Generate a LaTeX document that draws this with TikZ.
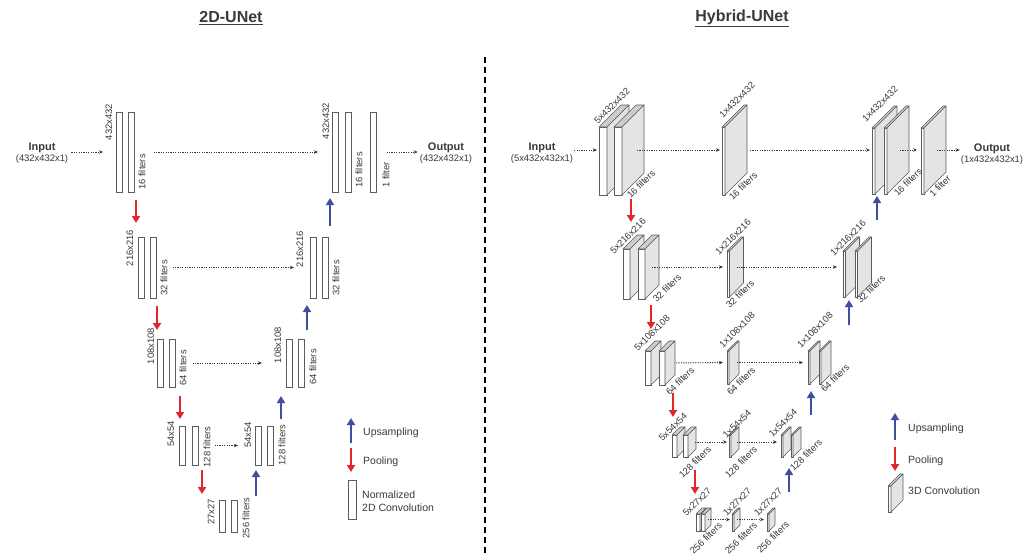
\documentclass[tikz,border=0pt]{standalone}
\usepackage{fontspec}
\setmainfont{Liberation Sans}
\usetikzlibrary{arrows.meta}

\definecolor{txt}{HTML}{3A3A3A}
\definecolor{edge}{HTML}{5C5C5C}
\definecolor{sidegray}{HTML}{E4E4E4}
\definecolor{topgray}{HTML}{CDCDCD}
\definecolor{poolred}{HTML}{E3262C}
\definecolor{upblue}{HTML}{3F4FA0}

\tikzset{
  conv/.style={draw=edge, line width=0.7pt, fill=white, inner sep=0pt, outer sep=0pt,
               minimum width=6.5pt, anchor=north west},
  lbl/.style={font=\fontsize{9.4}{10}\selectfont, text=txt, inner sep=0pt},
  vlbl/.style={lbl, rotate=90},
  dlbl/.style={lbl, rotate=45},
  leg/.style={font=\fontsize{10.5}{13}\selectfont, text=txt, inner sep=0pt, anchor=west, align=left},
  io/.style={text=txt, inner sep=0pt, align=center},
  ttl/.style={font=\fontsize{16}{18}\selectfont\bfseries, text=txt, inner sep=0pt},
  flow/.style={draw=txt, line width=0.9pt, dash pattern=on 1.2pt off 1.2pt,
               -{Stealth[length=4pt,width=3.5pt]}},
  pool/.style={draw=poolred, line width=2.3pt, -{Triangle[length=7pt,width=8pt]}},
  upar/.style={draw=upblue, line width=2.3pt, -{Triangle[length=7pt,width=8pt]}},
  slabline/.style={draw=edge, line width=0.6pt, line join=round},
}

% 3D convolution slab: name, x, bottom y, thickness, height, depth
\newcommand\slab[6]{%
  \filldraw[slabline, fill=white] (#2,#3) rectangle ({#2+#4},{#3-#5});
  \filldraw[slabline, fill=topgray] (#2,{#3-#5}) -- ({#2+#4},{#3-#5})
      -- ({#2+#4+#6},{#3-#5-#6}) -- ({#2+#6},{#3-#5-#6}) -- cycle;
  \filldraw[slabline, fill=sidegray] ({#2+#4},#3) -- ({#2+#4+#6},{#3-#6})
      -- ({#2+#4+#6},{#3-#5-#6}) -- ({#2+#4},{#3-#5}) -- cycle;
  \coordinate (#1) at ({#2+#4+#6/2},{#3-#5/2-#6/2});
  \coordinate (#1-in) at (#2,{#3-#5/2-#6/2});
}

\newcommand\iotext[2]{{\fontsize{11}{13}\selectfont\bfseries #1}\\[-1pt]{\fontsize{9.4}{11}\selectfont #2}}

\begin{document}
\begin{tikzpicture}[x=1pt, y=-1pt]
\useasboundingbox[fill=white] (0,0) rectangle (1026,557);

% ---------------- titles and separator ----------------
\node[ttl] (t2d) at (231,18) {\underline{2D-UNet}};
\node[ttl] (thy) at (742,18) {\underline{Hybrid-UNet}};
\coordinate (sepTop) at (485,57);
\coordinate (sepBot) at (485,557);
\draw[line width=2pt, dash pattern=on 6pt off 4pt] (sepTop) -- (sepBot);

% ================= 2D-UNet =================
\node[io] (inL) at (42,153) {\iotext{Input}{(432x432x1)}};
\node[io] (outL) at (446,153) {\iotext{Output}{(432x432x1)}};

% level 1
\node[conv, minimum height=80pt] (e1a) at (116,112) {};
\node[conv, minimum height=80pt] (e1b) at (128,112) {};
\node[vlbl] (e1s) at (109,122) {432x432};
\node[vlbl] (e1f) at (142,172) {16 filters};
\node[conv, minimum height=80pt] (d1a) at (332,112) {};
\node[conv, minimum height=80pt] (d1b) at (345,112) {};
\node[conv, minimum height=80pt] (d1c) at (370,112) {};
\node[vlbl] (d1s) at (326,121) {432x432};
\node[vlbl] (d1f) at (359,170) {16 filters};
\node[vlbl] (d1o) at (386,175) {1 filter};

% level 2
\node[conv, minimum height=61pt] (e2a) at (138,237) {};
\node[conv, minimum height=61pt] (e2b) at (150,237) {};
\node[vlbl] (e2s) at (130,248) {216x216};
\node[vlbl] (e2f) at (164,278) {32 filters};
\node[conv, minimum height=61pt] (d2a) at (310,237) {};
\node[conv, minimum height=61pt] (d2b) at (322,237) {};
\node[vlbl] (d2s) at (300,249) {216x216};
\node[vlbl] (d2f) at (336,278) {32 filters};

% level 3
\node[conv, minimum height=48pt] (e3a) at (157,339) {};
\node[conv, minimum height=48pt] (e3b) at (169,339) {};
\node[vlbl] (e3s) at (151,346) {108x108};
\node[vlbl] (e3f) at (183,368) {64 filters};
\node[conv, minimum height=48pt] (d3a) at (286,339) {};
\node[conv, minimum height=48pt] (d3b) at (298,339) {};
\node[vlbl] (d3s) at (278,345) {108x108};
\node[vlbl] (d3f) at (313,367) {64 filters};

% level 4
\node[conv, minimum height=39pt] (e4a) at (179,426) {};
\node[conv, minimum height=39pt] (e4b) at (192,426) {};
\node[vlbl] (e4s) at (171,434) {54x54};
\node[vlbl] (e4f) at (207,447) {128 filters};
\node[conv, minimum height=39pt] (d4a) at (255,426) {};
\node[conv, minimum height=39pt] (d4b) at (267,426) {};
\node[vlbl] (d4s) at (248,435) {54x54};
\node[vlbl] (d4f) at (282,445) {128 filters};

% level 5
\node[conv, minimum height=32pt] (e5a) at (219,500) {};
\node[conv, minimum height=32pt] (e5b) at (231,500) {};
\node[vlbl] (e5s) at (211,512) {27x27};
\node[vlbl] (e5f) at (246,518) {256 filters};

% skip connections and in/out
\draw[flow, shorten <=3pt, shorten >=13pt] (inL.east |- e1a.west) -- (e1a.west);
\draw[flow, shorten <=19pt, shorten >=14pt] (e1b.east) -- (d1a.west);
\draw[flow, shorten <=10pt, shorten >=2pt] (d1c.east) -- (d1c.east -| outL.west);
\draw[flow, shorten <=16pt, shorten >=16pt] (e2b.east) -- (d2a.west);
\draw[flow, shorten <=17pt, shorten >=24pt] (e3b.east) -- (d3a.west);
\draw[flow, shorten <=16pt, shorten >=17pt] (e4b.east) -- (d4a.west);

% pooling / upsampling
\draw[pool] (136,200) -- (136,223);
\draw[pool] (157,306) -- (157,330);
\draw[pool] (180,396) -- (180,419);
\draw[pool] (202,470) -- (202,494);
\draw[upar] (330,226) -- (330,198);
\draw[upar] (307,330) -- (307,305);
\draw[upar] (281,419) -- (281,396);
\draw[upar] (256,496) -- (256,470);

% legend
\draw[upar] (351,443) -- (351,418);
\node[leg] (lgUpL) at (363,433) {Upsampling};
\draw[pool] (351,448) -- (351,472);
\node[leg] (lgPoolL) at (363,462) {Pooling};
\node[conv, minimum width=8pt, minimum height=39pt] (lgConvL) at (348,480) {};
\node[leg] (lgConvTxtL) at (362,501) {Normalized\\2D Convolution};

% ================= Hybrid-UNet =================
\node[io] (inR) at (542,153) {\iotext{Input}{(5x432x432x1)}};
\node[io] (outR) at (992,154) {\iotext{Output}{(1x432x432x1)}};

% level 1
\slab{r1a}{599}{195}{8}{68}{22}
\slab{r1b}{614}{195}{8}{68}{22}
\slab{r1m}{722}{195}{3}{68}{22}
\slab{r1da}{872}{194}{3}{66}{22}
\slab{r1db}{884}{194}{3}{66}{22}
\slab{r1o}{921}{194}{3}{66}{22}
\node[dlbl] (r1as) at (612,106) {5x432x432};
\node[dlbl] (r1af) at (641,184) {16 filters};
\node[dlbl] (r1ms) at (737,100) {1x432x432};
\node[dlbl] (r1mf) at (743,186) {16 filters};
\node[dlbl] (r1ds) at (880,104) {1x432x432};
\node[dlbl] (r1df) at (908,182) {16 filters};
\node[dlbl] (r1of) at (940,186) {1 filter};

% level 2
\slab{r2a}{623}{299}{7}{50}{14}
\slab{r2b}{638}{299}{7}{50}{14}
\slab{r2m}{727}{297}{2.5}{46}{14}
\slab{r2da}{843}{297}{2.5}{46}{14}
\slab{r2db}{855}{297}{2.5}{46}{14}
\node[dlbl] (r2as) at (628,236) {5x216x216};
\node[dlbl] (r2af) at (667,288) {32 filters};
\node[dlbl] (r2ms) at (733,237) {1x216x216};
\node[dlbl] (r2mf) at (740,294) {32 filters};
\node[dlbl] (r2ds) at (848,238) {1x216x216};
\node[dlbl] (r2df) at (871,289) {32 filters};

% level 3
\slab{r3a}{645}{385}{6}{34}{10}
\slab{r3b}{659}{385}{6}{34}{10}
\slab{r3m}{727}{384}{2}{33}{10}
\slab{r3da}{808}{384}{2}{33}{10}
\slab{r3db}{819}{384}{2}{33}{10}
\node[dlbl] (r3as) at (652,333) {5x108x108};
\node[dlbl] (r3af) at (680,381) {64 filters};
\node[dlbl] (r3ms) at (737,330) {1x108x108};
\node[dlbl] (r3mf) at (741,381) {64 filters};
\node[dlbl] (r3ds) at (815,330) {1x108x108};
\node[dlbl] (r3df) at (835,378) {64 filters};

% level 4
\slab{r4a}{672}{457}{5}{22}{8}
\slab{r4b}{683}{457}{5}{22}{8}
\slab{r4m}{729}{457}{2}{22}{8}
\slab{r4da}{781}{457}{2}{22}{8}
\slab{r4db}{791}{457}{2}{22}{8}
\node[dlbl] (r4as) at (673,427) {5x54x54};
\node[dlbl] (r4af) at (695,462) {128 filters};
\node[dlbl] (r4ms) at (737,424) {1x54x54};
\node[dlbl] (r4mf) at (741,462) {128 filters};
\node[dlbl] (r4ds) at (783,423) {1x54x54};
\node[dlbl] (r4df) at (806,455) {128 filters};

% level 5
\slab{r5a}{696}{531}{4}{17}{6}
\slab{r5b}{701}{531}{4}{17}{6}
\slab{r5m}{732}{531}{2}{17}{6}
\slab{r5d}{767}{531}{2}{17}{6}
\node[dlbl] (r5as) at (697,502) {5x27x27};
\node[dlbl] (r5af) at (706,538) {256 filters};
\node[dlbl] (r5ms) at (737,502) {1x27x27};
\node[dlbl] (r5mf) at (741,538) {256 filters};
\node[dlbl] (r5ds) at (768,502) {1x27x27};
\node[dlbl] (r5df) at (773,537) {256 filters};

% connections
\draw[flow, shorten <=1pt, shorten >=2pt] (inR.east |- r1a-in) -- (r1a-in);
\draw[flow, shorten <=4pt, shorten >=2pt] (r1b) -- (r1m-in);
\draw[flow, shorten <=14pt, shorten >=2pt] (r1m) -- (r1da-in);
\draw[flow, shorten <=2pt, shorten >=4pt] (r1db) -- (r1o-in);
\draw[flow, shorten <=2pt, shorten >=1pt] (r1o) -- (r1o -| outR.west);
\draw[flow, shorten >=4pt] (r2b) -- (r2m-in);
\draw[flow, shorten >=6pt] (r2m) -- (r2da-in);
\draw[flow, shorten <=6pt, shorten >=4pt] (r3b) -- (r3m-in);
\draw[flow, shorten <=3pt, shorten >=5pt] (r3m) -- (r3da-in);
\draw[flow, shorten <=3pt, shorten >=2pt] (r4b) -- (r4m-in);
\draw[flow, shorten <=2pt, shorten >=4pt] (r4m) -- (r4da-in);
\draw[flow, shorten >=2pt] (r5b) -- (r5m-in);
\draw[flow, shorten >=3pt] (r5m) -- (r5d-in);

% pooling / upsampling
\draw[pool] (631,199) -- (631,222);
\draw[pool] (651,305) -- (651,329);
\draw[pool] (673,393) -- (673,417);
\draw[pool] (695,470) -- (695,494);
\draw[upar] (877,220) -- (877,196);
\draw[upar] (849,325) -- (849,300);
\draw[upar] (811,415) -- (811,391);
\draw[upar] (789,492) -- (789,468);

% legend
\draw[upar] (895,440) -- (895,413);
\node[leg] (lgUpR) at (908,429) {Upsampling};
\draw[pool] (895,447) -- (895,471);
\node[leg] (lgPoolR) at (908,461) {Pooling};
\slab{lgSlab}{888}{512}{3}{26}{12}
\node[leg] (lgConvR) at (908,491) {3D Convolution};

\end{tikzpicture}
\end{document}
